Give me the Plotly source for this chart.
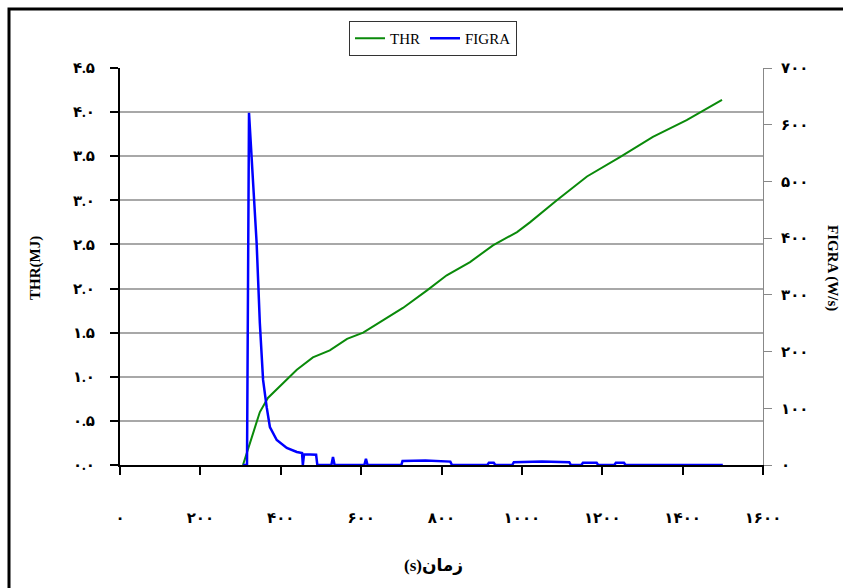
import plotly.graph_objects as go

# ---- data ----
thr_t = [306, 328, 348, 368, 410, 440, 480, 522, 565, 605, 654, 704, 764, 813, 871, 928, 988, 1020, 1087, 1162, 1244, 1326, 1410, 1498]
thr_v = [0.0, 0.32, 0.60, 0.76, 0.94, 1.08, 1.22, 1.30, 1.43, 1.50, 1.64, 1.78, 1.98, 2.15, 2.30, 2.49, 2.64, 2.75, 3.00, 3.27, 3.49, 3.72, 3.91, 4.14]

figra_t = [306, 316, 321, 328, 340, 348, 356, 365, 373, 390, 415, 440, 453, 455, 458, 488, 491,
           526, 530, 534, 608, 612, 616, 700, 703, 760, 822, 826, 914, 918, 930, 934,
           976, 980, 1050, 1118, 1122, 1148, 1152, 1186, 1190, 1230, 1234, 1254, 1258, 1500]
figra_v = [0, 0, 621, 543, 391, 250, 150, 102, 67, 44, 30, 23, 21, 0, 19, 18, 0,
           0, 14, 0, 0, 11, 0, 0, 7, 8, 6, 0, 0, 4, 4, 0,
           0, 5, 6, 5, 0, 0, 4, 4, 0, 0, 4, 4, 0, 0]

fa = "۰۱۲۳۴۵۶۷۸۹"
def fa_num(s):
    return "".join(fa[int(c)] if c.isdigit() else c for c in s)

x_ticks = list(range(0, 1601, 200))
x_labels = [fa_num(str(v)) for v in x_ticks]
y_ticks = [i * 0.5 for i in range(10)]
y_labels = [fa_num(f"{v:.1f}") for v in y_ticks]
y2_ticks = list(range(0, 701, 100))
y2_labels = [fa_num(str(v)) for v in y2_ticks]

FONT = "Liberation Serif, Times New Roman, DejaVu Sans, serif"
tickfont = dict(family=FONT, size=15, color="black", weight="bold")

fig = go.Figure()
fig.add_trace(go.Scatter(x=thr_t, y=thr_v, mode="lines", name="THR",
                         line=dict(color="#0a8a0a", width=2), yaxis="y"))
fig.add_trace(go.Scatter(x=figra_t, y=figra_v, mode="lines", name="FIGRA",
                         line=dict(color="#0000ff", width=2.5), yaxis="y2"))

W, H = 843, 588
L, R, T, B = 120, 80, 68, 123
pw, ph = W - L - R, H - T - B

def px(x):
    return (x - L) / pw

def py(y):
    return (H - B - y) / ph

fig.update_layout(
    width=W, height=H,
    margin=dict(l=L, r=R, t=T, b=B),
    paper_bgcolor="white", plot_bgcolor="white",
    showlegend=True,
    legend=dict(orientation="h", x=px(433), y=py(21), xanchor="center", yanchor="top",
                bordercolor="#333", borderwidth=1, bgcolor="white",
                font=dict(family=FONT, size=15, color="black"),
                itemwidth=30, tracegroupgap=0),
    xaxis=dict(range=[0, 1600], tickvals=x_ticks, ticktext=x_labels, tickfont=tickfont,
               showline=True, linecolor="black", linewidth=2, ticks="outside",
               ticklen=8, tickwidth=2, tickcolor="black", showgrid=False, zeroline=False,
               ticklabelstandoff=30),
    xaxis3=dict(range=[0, 1600], tickvals=x_ticks, overlaying="x", anchor="y", side="bottom",
                showticklabels=False, ticks="inside", ticklen=8, tickwidth=2, tickcolor="black",
                showgrid=False, zeroline=False, showline=False),
    yaxis=dict(range=[0, 4.5], tickvals=y_ticks, ticktext=y_labels, tickfont=tickfont,
               showline=True, linecolor="black", linewidth=2, ticks="outside",
               ticklen=8, tickwidth=2, tickcolor="black", showgrid=True,
               gridcolor="#a8a8a8", gridwidth=1.5, zeroline=False, ticklabelstandoff=12),
    yaxis3=dict(range=[0, 4.5], tickvals=y_ticks, overlaying="y", anchor="x", side="left",
                showticklabels=False, ticks="inside", ticklen=8, tickwidth=2, tickcolor="black",
                showgrid=False, zeroline=False, showline=False),
    yaxis2=dict(range=[0, 700], tickvals=y2_ticks, ticktext=y2_labels, tickfont=tickfont,
                overlaying="y", side="right", anchor="x",
                showline=True, linecolor="#888", linewidth=1, ticks="outside",
                ticklen=8, tickwidth=1, tickcolor="#888", showgrid=False, zeroline=False,
                ticklabelstandoff=6),
    yaxis4=dict(range=[0, 700], tickvals=y2_ticks, overlaying="y", side="right", anchor="x",
                showticklabels=False, ticks="inside", ticklen=8, tickwidth=1, tickcolor="#888",
                showgrid=False, zeroline=False, showline=False),
    annotations=[
        dict(text="THR(MJ)", x=px(35), y=py(268), xref="paper", yref="paper",
             textangle=-90, showarrow=False, xanchor="center", yanchor="middle",
             font=dict(family=FONT, size=15, color="black", weight="bold")),
        dict(text="FIGRA (W/s)", x=px(833), y=py(268), xref="paper", yref="paper",
             textangle=90, showarrow=False, xanchor="center", yanchor="middle",
             font=dict(family=FONT, size=15, color="black", weight="bold")),
        dict(text="(s)زمان", x=px(433), y=py(565), xref="paper", yref="paper",
             showarrow=False, xanchor="center", yanchor="middle",
             font=dict(family=FONT, size=17, color="black", weight="bold")),
    ],
    shapes=[
        dict(type="rect", xref="paper", yref="paper",
             x0=px(9), x1=px(848), y0=py(595), y1=py(9),
             line=dict(color="black", width=3), fillcolor="rgba(0,0,0,0)", layer="below"),
    ],
)

fig.write_html("out.html")
